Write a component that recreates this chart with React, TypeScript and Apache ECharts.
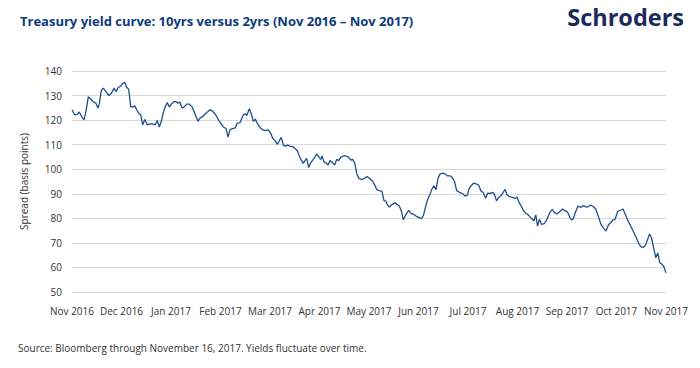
import React, { useEffect, useRef } from "react";
import * as echarts from "echarts";

const titleText = "Treasury yield curve: 10yrs versus 2yrs (Nov 2016 – Nov 2017)";
const sourceText = "Source: Bloomberg through November 16, 2017. Yields fluctuate over time.";
const yAxisName = "Spread (basis points)";
const monthLabels = [
  "Nov 2016", "Dec 2016", "Jan 2017", "Feb 2017", "Mar 2017", "Apr 2017", "May 2017",
  "Jun 2017", "Jul 2017", "Aug 2017", "Sep 2017", "Oct 2017", "Nov 2017",
];
const yTicks = [50, 60, 70, 80, 90, 100, 110, 120, 130, 140];

// time in months since 16 Nov 2016
const monthOffsets = [
  0, 0.055, 0.107, 0.147, 0.196, 0.242, 0.283, 0.329, 0.378, 0.43, 0.485, 0.525, 0.552, 0.592, 0.632,
  0.687, 0.741, 0.794, 0.848, 0.889, 0.929, 0.984, 1.024, 1.065, 1.105, 1.145, 1.186, 1.226, 1.267,
  1.307, 1.347, 1.388, 1.428, 1.469, 1.521, 1.576, 1.63, 1.683, 1.723, 1.764, 1.804, 1.844, 1.885,
  1.925, 1.966, 2.006, 2.046, 2.101, 2.141, 2.182, 2.222, 2.263, 2.317, 2.37, 2.424, 2.465, 2.505,
  2.545, 2.586, 2.64, 2.693, 2.747, 2.788, 2.828, 2.883, 2.923, 2.964, 3.016, 3.057, 3.111, 3.152,
  3.192, 3.246, 3.299, 3.339, 3.394, 3.461, 3.501, 3.529, 3.582, 3.622, 3.663, 3.703, 3.743, 3.798,
  3.853, 3.905, 3.966, 4.014, 4.055, 4.107, 4.147, 4.188, 4.228, 4.269, 4.309, 4.349, 4.404, 4.459,
  4.505, 4.552, 4.592, 4.632, 4.673, 4.713, 4.741, 4.782, 4.822, 4.863, 4.903, 4.943, 4.984, 5.024,
  5.051, 5.091, 5.131, 5.172, 5.212, 5.267, 5.307, 5.347, 5.388, 5.428, 5.481, 5.535, 5.59, 5.63,
  5.671, 5.711, 5.752, 5.792, 5.844, 5.899, 5.96, 6.02, 6.075, 6.121, 6.156, 6.208, 6.263, 6.303,
  6.343, 6.37, 6.41, 6.465, 6.519, 6.572, 6.612, 6.653, 6.693, 6.747, 6.802, 6.855, 6.895, 6.949,
  7.004, 7.057, 7.097, 7.137, 7.178, 7.232, 7.273, 7.313, 7.354, 7.394, 7.434, 7.489, 7.541, 7.582,
  7.636, 7.683, 7.727, 7.772, 7.818, 7.893, 7.949, 7.99, 8.02, 8.061, 8.111, 8.168, 8.216, 8.263,
  8.303, 8.358, 8.398, 8.451, 8.495, 8.535, 8.576, 8.616, 8.677, 8.717, 8.747, 8.788, 8.838, 8.895,
  8.949, 8.99, 9.03, 9.071, 9.121, 9.172, 9.222, 9.283, 9.333, 9.37, 9.404, 9.444, 9.485, 9.539,
  9.596, 9.646, 9.701, 9.747, 9.804, 9.859, 9.909, 9.964, 10.01, 10.055, 10.091, 10.127, 10.172,
  10.222, 10.283, 10.329, 10.384, 10.434, 10.481, 10.535, 10.582, 10.636, 10.687, 10.743, 10.788,
  10.834, 10.883, 10.929, 10.97, 11.024, 11.081, 11.131, 11.182, 11.232, 11.287, 11.343, 11.394,
  11.448, 11.495, 11.545, 11.586, 11.626, 11.667, 11.707, 11.747, 11.794, 11.834, 11.875, 11.915,
  11.956, 12,
];

// 10yr minus 2yr spread, basis points
const spreadBp = [
  124.2, 122.1, 122.4, 123.3, 121.4, 120.1, 123.7, 129.5, 128.6, 127.5, 126.8, 124.9, 126.8, 132, 133,
  131.6, 130, 130.9, 133, 131.6, 133.2, 133.9, 135, 135.4, 133.4, 132.6, 125.5, 125.3, 125.8,
  124.2, 122.8, 122.2, 118.1, 120.3, 118.1, 118.5, 118.5, 118.1, 119.9, 117.2, 119.5, 123.1, 125.5,
  127.2, 125.3, 126.5, 127.3, 127.6, 126.9, 127.3, 124.9, 125.3, 126.5, 126.5, 125.5, 123.5, 121.5,
  119.5, 120.8, 121.5, 122.6, 123.5, 124.2, 123.9, 122.6, 121.5, 119.9, 118.5, 117.2, 116.6, 113.1,
  116.1, 116.5, 116.8, 118.8, 118.9, 122.1, 122.7, 121.8, 124.6, 122.6, 119.5, 120.4, 118.7, 117,
  116, 115.7, 116, 114.6, 112.6, 111.6, 110.1, 111.6, 113, 109.8, 109.4, 109.8, 109.4, 109.2,
  108.5, 107.5, 105.4, 103.7, 102.4, 103.7, 104.4, 100.7, 102.6, 103.7, 104.8, 106.2, 105.1, 104,
  105.4, 103, 102.6, 101.7, 103.5, 102.6, 101.7, 104, 103.5, 104.8, 105.4, 105.4, 104.8, 103.7,
  104, 102.6, 98.3, 96.3, 95.8, 96.2, 97, 96.1, 95, 93.4, 91.7, 91.3, 91, 87.2,
  87, 85.6, 84.6, 85.6, 86.3, 85.6, 85, 83, 79.4, 81.6, 83.2, 81.8, 81.8, 80.9,
  80.4, 79.9, 81, 84.2, 87.4, 89.8, 92, 93.2, 91.7, 96.2, 98, 98.4, 98.1, 97.3,
  97.3, 96.6, 95, 91.3, 90.7, 90, 89, 89.5, 92, 93.2, 94.3, 94, 93.5, 91.1,
  90.6, 88.2, 90.3, 90.2, 90.6, 89.7, 87.1, 88.4, 89.5, 90.8, 91.8, 89.6, 88.8, 88.5,
  88.1, 88.7, 86.5, 85.2, 83.1, 82, 81.3, 79.9, 79, 81.4, 76.9, 79.6, 77.5, 77.8,
  79.6, 82.1, 83.7, 82.3, 81.8, 82.9, 83.8, 83, 82.6, 80.5, 79.4, 79.8, 82.6,
  85, 84.5, 85.2, 84.6, 84.8, 85.4, 84.7, 83.7, 80.6, 77.5, 75.8, 74.8,
  77.2, 78.3, 79.4, 79.5, 82.8, 83.3, 83.8, 81.5, 79, 76.9, 74.5, 72.4,
  69.8, 68.4, 68.2, 69.1, 71.3, 73.6, 72.1, 68.3, 63.9, 65.9, 61.9, 61.4,
  60.3, 57.8,
];

export default function App() {
  const ref = useRef<HTMLDivElement>(null);
  useEffect(() => {
    document.body.style.margin = "0";
    if (!ref.current) return;
    const chart = echarts.init(ref.current, null, { renderer: "svg" });
    const data = monthOffsets.map((m, i) => [m, spreadBp[i]]);
    chart.setOption({
      animation: false,
      backgroundColor: "#ffffff",
      textStyle: { fontFamily: "Open Sans" },
      graphic: [
        {
          type: "text",
          left: 20,
          top: 14,
          style: {
            text: titleText,
            fill: "#0c3b7a",
            font: "bold 13px 'Open Sans'",
          },
        },
        {
          type: "text",
          right: 16,
          top: 5,
          style: {
            text: "Schroders",
            fill: "#1a2b5c",
            font: "bold 23.5px 'Open Sans'",
          },
        },
        {
          type: "text",
          left: 18,
          top: 343,
          style: {
            text: sourceText,
            fill: "#333333",
            font: "10px 'Open Sans'",
          },
        },
      ],
      grid: { left: 72, right: 34, top: 71, bottom: 76, containLabel: false },
      xAxis: {
        type: "value",
        min: 0,
        max: 12,
        interval: 1,
        axisLine: { show: false },
        axisTick: { show: false },
        splitLine: { show: false },
        axisLabel: {
          color: "#333333",
          fontSize: 10,
          margin: 14,
          fontFamily: "Open Sans",
          formatter: (v: number) => monthLabels[Math.round(v)] ?? "",
        },
      },
      yAxis: {
        type: "value",
        min: yTicks[0],
        max: yTicks[yTicks.length - 1],
        interval: 10,
        name: yAxisName,
        nameLocation: "middle",
        nameGap: 43,
        nameTextStyle: { color: "#333333", fontSize: 10, fontFamily: "Open Sans" },
        axisLine: { show: false },
        axisTick: { show: false },
        axisLabel: { color: "#333333", fontSize: 10, margin: 10, fontFamily: "Open Sans" },
        splitLine: { lineStyle: { color: "#d9d9d9", width: 1.2 } },
      },
      series: [
        {
          type: "line",
          data,
          showSymbol: false,
          symbol: "none",
          lineStyle: { color: "#1f4e8f", width: 1.3 },
        },
      ],
    });
    return () => chart.dispose();
  }, []);
  return <div ref={ref} style={{ width: 700, height: 368 }} />;
}
